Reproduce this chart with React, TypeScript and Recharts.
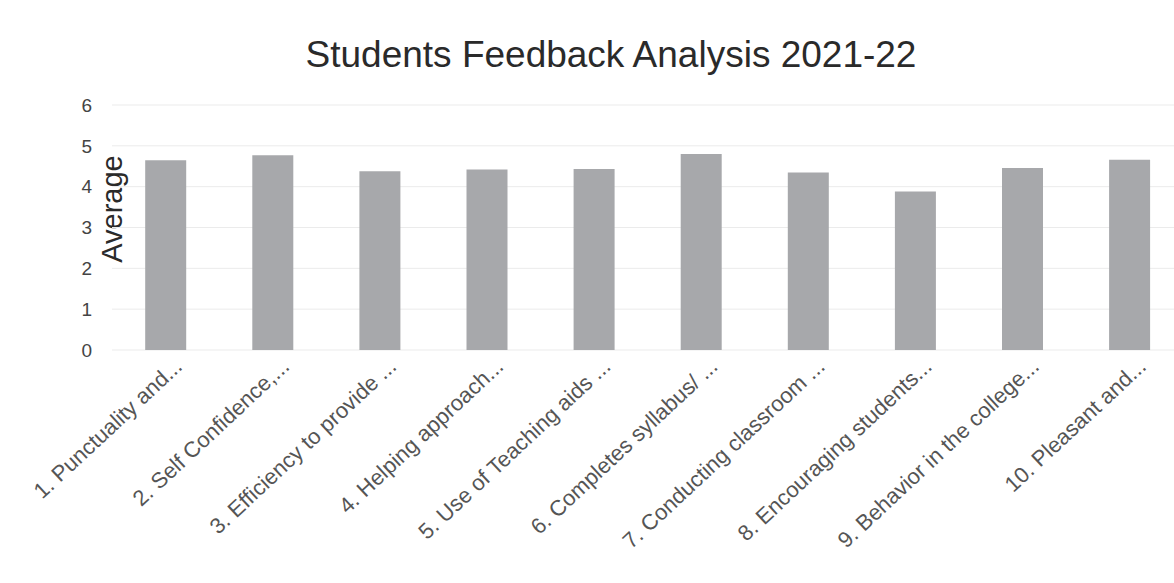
import { BarChart, Bar, XAxis, YAxis, CartesianGrid } from "recharts";

const categories = [
  "1. Punctuality and...",
  "2. Self Confidence,...",
  "3. Efficiency to provide ...",
  "4. Helping approach...",
  "5. Use of Teaching aids ...",
  "6. Completes syllabus/ ...",
  "7. Conducting classroom ...",
  "8. Encouraging students...",
  "9. Behavior in the college...",
  "10. Pleasant and...",
];

const averages = [4.65, 4.77, 4.38, 4.42, 4.43, 4.8, 4.35, 3.88, 4.46, 4.66];

const yTicks = [0, 1, 2, 3, 4, 5, 6];

const data = categories.map((name, i) => ({ name, average: averages[i] }));

const FONT = "'Liberation Sans', Arial, sans-serif";

function AngledTick({ x, y, payload }: any) {
  return (
    <g transform={`translate(${x + 18},${y + 10})`}>
      <text
        x={0}
        y={0}
        textAnchor="end"
        transform="rotate(-43)"
        fill="#555"
        fontSize={22}
        fontFamily={FONT}
      >
        {payload.value}
      </text>
    </g>
  );
}

export default function App() {
  return (
    <div
      style={{
        position: "absolute",
        left: 0,
        top: 0,
        width: 1174,
        height: 583,
        overflow: "hidden",
        background: "#fff",
        fontFamily: FONT,
      }}
    >
      <div
        style={{
          position: "absolute",
          left: 0,
          width: 1222,
          top: 34,
          textAlign: "center",
          fontSize: 37,
          color: "#2a2a2a",
        }}
      >
        Students Feedback Analysis 2021-22
      </div>
      <div
        style={{
          position: "absolute",
          left: 112,
          top: 209,
          transform: "translate(-50%, -50%) rotate(-90deg)",
          fontSize: 29,
          color: "#2a2a2a",
          whiteSpace: "nowrap",
        }}
      >
        Average
      </div>
      <BarChart
        width={1200}
        height={583}
        data={data}
        margin={{ top: 105, right: 17, left: 0, bottom: 0 }}
        barCategoryGap="31%"
      >
        <CartesianGrid vertical={false} stroke="#ebebeb" />
        <XAxis
          dataKey="name"
          interval={0}
          height={233}
          axisLine={false}
          tickLine={false}
          tick={<AngledTick />}
        />
        <YAxis
          width={112}
          domain={[0, 6]}
          ticks={yTicks}
          axisLine={false}
          tickLine={false}
          tickMargin={14}
          tick={{ fill: "#444", fontSize: 19, fontFamily: FONT }}
        />
        <Bar dataKey="average" fill="#a7a8ab" isAnimationActive={false} />
      </BarChart>
    </div>
  );
}
